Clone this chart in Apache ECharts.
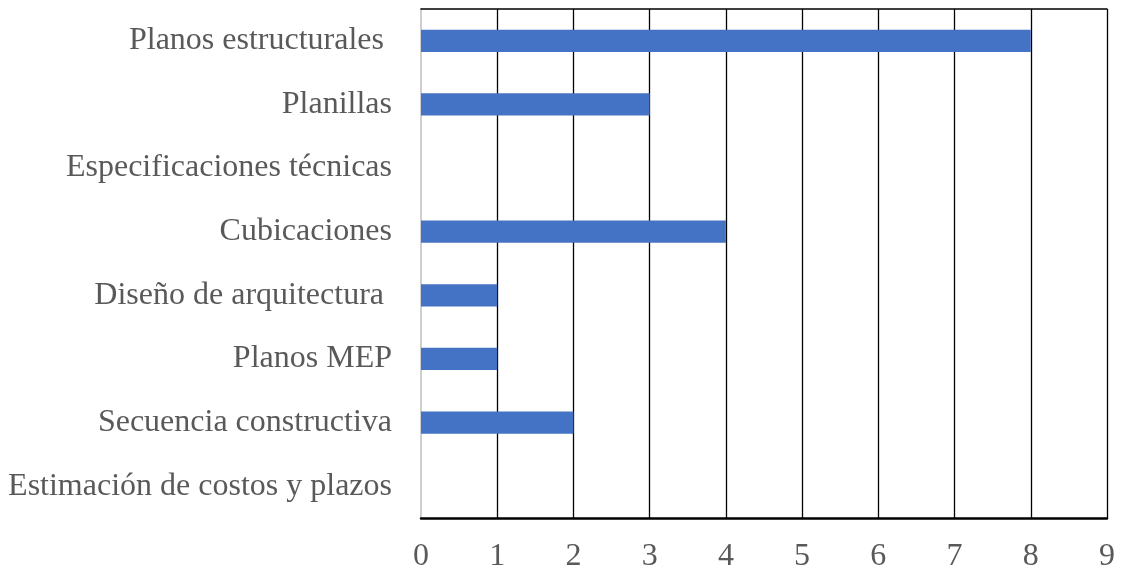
<!DOCTYPE html>
<html>
<head>
<meta charset="utf-8">
<script src="https://cdn.jsdelivr.net/npm/echarts@6/dist/echarts.min.js"></script>
<style>
  html, body { margin: 0; padding: 0; background: #fff; }
  #chart { width: 1123px; height: 573px; }
</style>
</head>
<body>
<div id="chart"></div>
<script>
// Document types, listed top to bottom
const categories = [
  'Planos estructurales ',
  'Planillas',
  'Especificaciones técnicas',
  'Cubicaciones',
  'Diseño de arquitectura ',
  'Planos MEP',
  'Secuencia constructiva',
  'Estimación de costos y plazos'
];
// Count for each document type
const counts = [8, 3, 0, 4, 1, 1, 2, 0];
// Value axis range
const xMin = 0;
const xMax = 9;
const xStep = 1;

const serif = '"Liberation Serif", "Times New Roman", serif';
const chart = echarts.init(document.getElementById('chart'));

chart.setOption({
  animation: false,
  backgroundColor: '#ffffff',
  grid: { left: 421, right: 16, top: 9, bottom: 54, containLabel: false },
  xAxis: [
    {
      type: 'value',
      position: 'bottom',
      min: xMin,
      max: xMax,
      interval: xStep,
      axisLine: { show: true, lineStyle: { color: '#000000', width: 2.5 } },
      axisTick: { show: false },
      axisLabel: {
        color: '#595959',
        fontFamily: serif,
        fontSize: 32,
        margin: 23
      },
      splitLine: {
        show: true,
        showMinLine: false,
        lineStyle: { color: '#000000', width: 1.3 }
      }
    },
    {
      type: 'value',
      position: 'top',
      min: xMin,
      max: xMax,
      interval: xStep,
      axisLine: { show: true, lineStyle: { color: '#000000', width: 1.5 } },
      axisTick: { show: false },
      axisLabel: { show: false },
      splitLine: { show: false }
    }
  ],
  yAxis: {
    type: 'category',
    data: categories,
    inverse: true,
    axisLine: { show: true, lineStyle: { color: '#bfbfbf', width: 1.5 } },
    axisTick: { show: false },
    axisLabel: {
      color: '#595959',
      fontFamily: serif,
      fontSize: 32,
      margin: 29,
      padding: [7, 0, 0, 0]
    },
    splitLine: { show: false }
  },
  series: [
    {
      type: 'bar',
      xAxisIndex: 0,
      data: counts,
      barCategoryGap: '65%',
      itemStyle: { color: '#4472C4' },
      z: 3
    }
  ]
});
</script>
</body>
</html>
